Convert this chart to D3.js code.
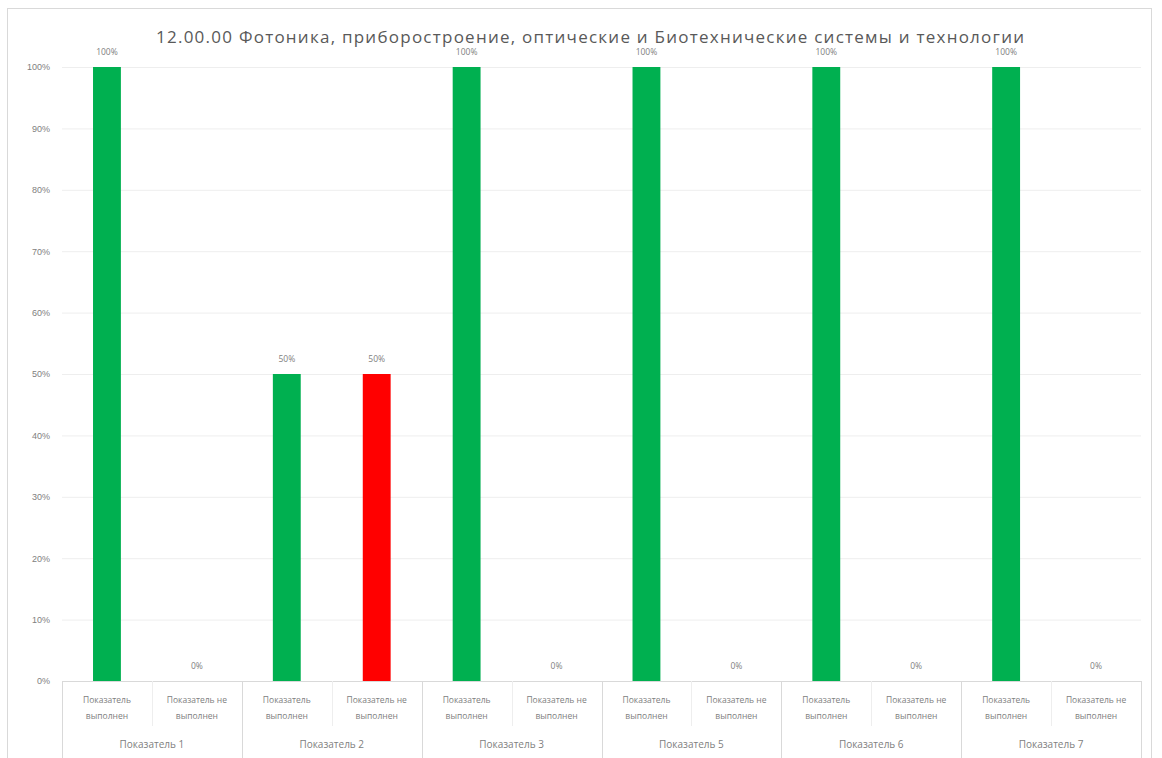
<!DOCTYPE html>
<html><head><meta charset="utf-8">
<script src="https://cdn.jsdelivr.net/npm/d3@7"></script>
<style>body{margin:0;background:#fff;}svg{display:block;font-family:"Open Sans","Noto Sans",sans-serif;}</style>
</head><body>
<svg id="c" width="1162" height="758"></svg>
<script>
const title = "12.00.00 Фотоника, приборостроение,  оптические и Биотехнические системы и технологии";
const groups = ["Показатель 1","Показатель 2","Показатель 3","Показатель 5","Показатель 6","Показатель 7"];
const subLabels = [["Показатель","выполнен"],["Показатель не","выполнен"]];
const values = [1,0, 0.5,0.5, 1,0, 1,0, 1,0, 1,0];
const barColors = ["#00B050","#00B050", "#00B050","#FF0000", "#00B050","#00B050", "#00B050","#00B050", "#00B050","#00B050", "#00B050","#00B050"];
const yTicks = [0,0.1,0.2,0.3,0.4,0.5,0.6,0.7,0.8,0.9,1];

const svg = d3.select("#c");
svg.append("rect").attr("x",7.5).attr("y",8.5).attr("width",1144).attr("height",760)
  .attr("fill","#fff").attr("stroke","#d9d9d9");

const L=62, R=1141, T=67, B=681;
const cats = values.map((v,i)=>i);
const x = d3.scaleBand().domain(cats).range([L,R]).paddingInner(0.69).paddingOuter(0.345);
const xs = d3.scaleLinear().domain([0,12]).range([L,R]);
const y = d3.scaleLinear().domain([0,1]).range([B,T]);

svg.append("g").selectAll("line").data(yTicks.slice(1)).join("line")
  .attr("x1",L).attr("x2",R).attr("y1",d=>y(d)+0.5).attr("y2",d=>y(d)+0.5)
  .attr("stroke","#eeeeee");

const yAxis = d3.axisLeft(y).tickValues(yTicks).tickFormat(d3.format(".0%")).tickSize(0).tickPadding(12);
const ga = svg.append("g").attr("transform",`translate(${L},0)`).call(yAxis);
ga.select(".domain").remove();
ga.selectAll("text").attr("fill","#808080").attr("font-size",9);

svg.append("g").selectAll("rect").data(values).join("rect")
  .attr("x",(d,i)=>x(i)).attr("width",x.bandwidth())
  .attr("y",d=>y(d)).attr("height",d=>B-y(d))
  .attr("fill",(d,i)=>barColors[i]);

svg.append("g").selectAll("text").data(values).join("text")
  .attr("x",(d,i)=>x(i)+x.bandwidth()/2).attr("y",d=>y(d)-12)
  .attr("text-anchor","middle").attr("font-size",8.5).attr("fill","#808080")
  .text(d=>d3.format(".0%")(d));

// axis line
svg.append("line").attr("x1",L).attr("x2",R).attr("y1",B+0.5).attr("y2",B+0.5).attr("stroke","#d9d9d9");
// group separators
svg.append("g").selectAll("line").data(d3.range(groups.length+1)).join("line")
  .attr("x1",d=>Math.round(xs(d*2))+0.5).attr("x2",d=>Math.round(xs(d*2))+0.5)
  .attr("y1",B).attr("y2",758).attr("stroke","#d9d9d9");
// category separators (short)
svg.append("g").selectAll("line").data(groups).join("line")
  .attr("x1",(d,i)=>Math.round(xs(i*2+1))+0.5).attr("x2",(d,i)=>Math.round(xs(i*2+1))+0.5)
  .attr("y1",B).attr("y2",B+45).attr("stroke","#eeeeee");

const cl = svg.append("g");
cats.forEach(i=>{
  const lab = subLabels[i%2];
  lab.forEach((t,k)=>{
    cl.append("text").attr("x",xs(i+0.5)).attr("y",703+k*16)
      .attr("text-anchor","middle").attr("font-size",8.5).attr("fill","#808080").text(t);
  });
});
svg.append("g").selectAll("text").data(groups).join("text")
  .attr("x",(d,i)=>xs(i*2+1)).attr("y",748)
  .attr("text-anchor","middle").attr("font-size",10).attr("fill","#808080").text(d=>d);

svg.append("text").attr("x",590).attr("y",43).attr("text-anchor","middle")
  .attr("font-size",17).attr("fill","#595959")
  .attr("textLength",868).attr("lengthAdjust","spacing").text(title);
</script>
</body></html>
